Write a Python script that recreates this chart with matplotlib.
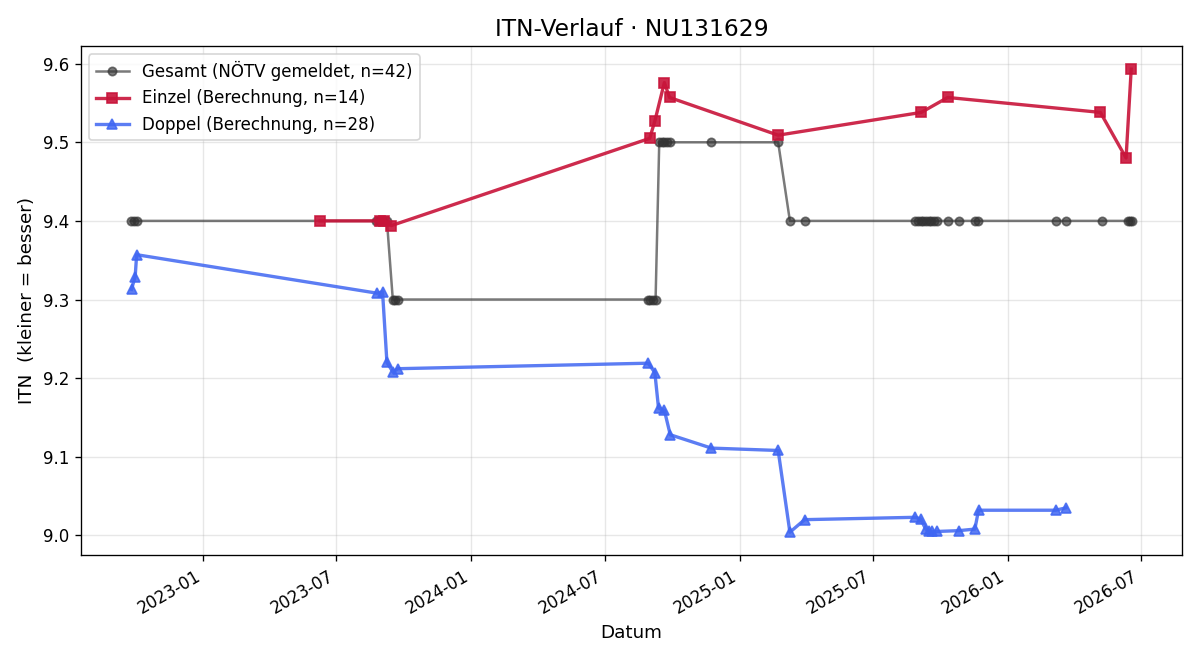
import pandas as pd
import matplotlib
matplotlib.use("Agg")
import matplotlib.pyplot as plt
import matplotlib.dates as mdates

# Gesamt (NÖTV gemeldet)
gesamt_datum = [
    "2022-09-24", "2022-09-28", "2022-10-02",
    "2023-08-24", "2023-08-28", "2023-09-03", "2023-09-08",
    "2023-09-16", "2023-09-19", "2023-09-23",
    "2024-08-29", "2024-09-01", "2024-09-04", "2024-09-08",
    "2024-09-13", "2024-09-17", "2024-09-20", "2024-09-24", "2024-09-28",
    "2024-11-23", "2025-02-22",
    "2025-03-10", "2025-03-30",
    "2025-08-28", "2025-09-01", "2025-09-05", "2025-09-08", "2025-09-11",
    "2025-09-15", "2025-09-18", "2025-09-22", "2025-09-27",
    "2025-10-12", "2025-10-26", "2025-11-17", "2025-11-21",
    "2026-03-07", "2026-03-21", "2026-05-09",
    "2026-06-13", "2026-06-16", "2026-06-19",
]
gesamt_itn = [
    9.4, 9.4, 9.4,
    9.4, 9.4, 9.4, 9.4,
    9.3, 9.3, 9.3,
    9.3, 9.3, 9.3, 9.3,
    9.5, 9.5, 9.5, 9.5, 9.5,
    9.5, 9.5,
    9.4, 9.4,
    9.4, 9.4, 9.4, 9.4, 9.4,
    9.4, 9.4, 9.4, 9.4,
    9.4, 9.4, 9.4, 9.4,
    9.4, 9.4, 9.4,
    9.4, 9.4, 9.4,
]

# Einzel (Berechnung)
einzel_datum = [
    "2023-06-09", "2023-08-30", "2023-09-04", "2023-09-14",
    "2024-08-31", "2024-09-07", "2024-09-20", "2024-09-27",
    "2025-02-22", "2025-09-05", "2025-10-11",
    "2026-05-07", "2026-06-11", "2026-06-18",
]
einzel_itn = [
    9.400, 9.400, 9.400, 9.394,
    9.505, 9.527, 9.576, 9.557,
    9.509, 9.538, 9.557,
    9.538, 9.480, 9.593,
]

# Doppel (Berechnung)
doppel_datum = [
    "2022-09-25", "2022-09-30", "2022-10-02",
    "2023-08-26", "2023-09-02", "2023-09-08", "2023-09-16", "2023-09-23",
    "2024-08-29", "2024-09-07", "2024-09-12", "2024-09-20", "2024-09-28",
    "2024-11-23", "2025-02-22",
    "2025-03-10", "2025-03-30",
    "2025-08-28", "2025-09-04", "2025-09-11", "2025-09-16", "2025-09-19",
    "2025-09-27", "2025-10-26",
    "2025-11-17", "2025-11-22",
    "2026-03-07", "2026-03-21",
]
doppel_itn = [
    9.313, 9.329, 9.357,
    9.308, 9.310, 9.220, 9.208, 9.212,
    9.219, 9.207, 9.162, 9.159, 9.128,
    9.111, 9.108,
    9.004, 9.020,
    9.023, 9.021, 9.008, 9.006, 9.005,
    9.005, 9.006,
    9.008, 9.032,
    9.032, 9.035,
]

fig, ax = plt.subplots(figsize=(10, 5.5), dpi=120)
ax.plot(pd.to_datetime(gesamt_datum), gesamt_itn, marker="o", color="#333333",
        alpha=0.65, linewidth=1.5, markersize=5,
        label=f"Gesamt (NÖTV gemeldet, n={len(gesamt_itn)})")
ax.plot(pd.to_datetime(einzel_datum), einzel_itn, marker="s", color="#c8143a",
        alpha=0.9, linewidth=2, markersize=6,
        label=f"Einzel (Berechnung, n={len(einzel_itn)})")
ax.plot(pd.to_datetime(doppel_datum), doppel_itn, marker="^", color="#3f66f2",
        alpha=0.85, linewidth=2, markersize=6,
        label=f"Doppel (Berechnung, n={len(doppel_itn)})")

ax.set_title("ITN-Verlauf · NU131629", fontsize=14)
ax.set_xlabel("Datum", fontsize=11)
ax.set_ylabel("ITN  (kleiner = besser)", fontsize=11)
ax.xaxis.set_major_formatter(mdates.DateFormatter("%Y-%m"))
ax.grid(True, alpha=0.3)
ax.legend(loc="upper left")
fig.autofmt_xdate()
fig.tight_layout()
fig.savefig("out.png")
